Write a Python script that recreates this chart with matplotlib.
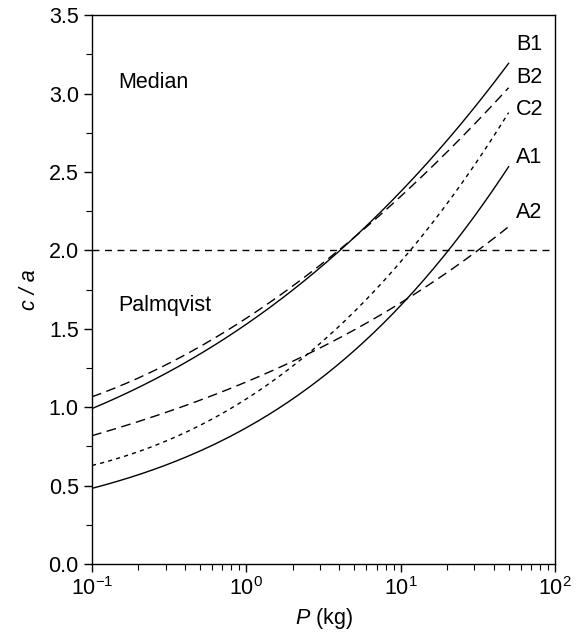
import numpy as np
import matplotlib
matplotlib.use("Agg")
import matplotlib.pyplot as plt
from matplotlib.ticker import FormatStrFormatter, MultipleLocator, LogLocator

plt.rcParams['font.family'] = ['Liberation Sans', 'DejaVu Sans']
plt.rcParams['mathtext.fontset'] = 'custom'
plt.rcParams['mathtext.rm'] = 'Liberation Sans'
plt.rcParams['mathtext.it'] = 'Liberation Sans:italic'

# curves: load P (kg) -> c/a
b1_p = [0.1, 0.24, 0.5, 1.0, 2.0, 4.3, 7.3, 12, 20, 32, 50]
b1_ca = [0.99, 1.17, 1.33, 1.53, 1.76, 2.01, 2.24, 2.46, 2.70, 2.95, 3.19]

b2_p = [0.1, 0.26, 0.5, 1.0, 2.0, 4.3, 8.5, 13.3, 22, 32, 50]
b2_ca = [1.06, 1.25, 1.39, 1.56, 1.78, 2.01, 2.28, 2.46, 2.68, 2.85, 3.02]

c2_p = [0.1, 0.24, 0.5, 1.0, 2.0, 3.5, 6.3, 11.5, 24, 50]
c2_ca = [0.62, 0.76, 0.89, 1.04, 1.26, 1.46, 1.71, 2.00, 2.42, 2.87]

a1_p = [0.1, 0.24, 0.5, 1.0, 2.2, 3.5, 4.7, 6.6, 11.5, 21, 35, 50]
a1_ca = [0.48, 0.60, 0.73, 0.85, 1.07, 1.25, 1.35, 1.47, 1.70, 2.01, 2.32, 2.53]

a2_p = [0.1, 0.24, 0.5, 1.0, 2.0, 3.5, 8.5, 11.5, 20, 36, 50]
a2_ca = [0.81, 0.95, 1.05, 1.15, 1.28, 1.41, 1.64, 1.70, 1.87, 2.02, 2.16]

median_level = 2.0

labels = ['B1', 'B2', 'C2', 'A1', 'A2']
label_y = [3.31, 3.10, 2.90, 2.59, 2.24]

fig = plt.figure(figsize=(5.8, 6.32), dpi=100)
ax = fig.add_axes([0.1586, 0.1076, 0.7984, 0.8684])


def smooth(p, ca, n=300):
    # least-squares cubic through the read points in log10(P), to iron out reading noise
    x = np.log10(p)
    coef = np.polyfit(x, ca, 3)
    xs = np.linspace(x[0], x[-1], n)
    return 10 ** xs, np.polyval(coef, xs)


lw = 1.0
ax.plot(*smooth(b1_p, b1_ca), color='black', lw=lw)
ax.plot(*smooth(b2_p, b2_ca), color='black', lw=lw, dashes=(7, 4))
ax.plot(*smooth(c2_p, c2_ca), color='black', lw=lw, dashes=(3, 3))
ax.plot(*smooth(a1_p, a1_ca), color='black', lw=lw)
ax.plot(*smooth(a2_p, a2_ca), color='black', lw=lw, dashes=(7, 4))
ax.axhline(median_level, color='black', lw=lw, dashes=(5, 4))

fs = 15.5
for lab, y in zip(labels, label_y):
    ax.text(56, y, lab, fontsize=fs, ha='left', va='center')

ax.text(0.148, 3.07, 'Median', fontsize=fs, ha='left', va='center')
ax.text(0.148, 1.65, 'Palmqvist', fontsize=fs, ha='left', va='center')

ax.set_xscale('log')
ax.set_xlim(0.1, 100)
ax.set_ylim(0, 3.5)
ax.yaxis.set_major_locator(MultipleLocator(0.5))
ax.yaxis.set_minor_locator(MultipleLocator(0.25))
ax.yaxis.set_major_formatter(FormatStrFormatter('%.1f'))
ax.xaxis.set_minor_locator(LogLocator(base=10, subs=np.arange(2, 10)))

ax.tick_params(which='major', direction='out', length=6, width=1, labelsize=fs)
ax.tick_params(which='minor', direction='out', length=4, width=0.8)
for s in ax.spines.values():
    s.set_linewidth(1.0)

ax.set_xlabel('$\\it{P}$ (kg)', fontsize=fs, labelpad=4)
ax.set_ylabel('c / a', fontsize=fs, style='italic', labelpad=6)

fig.savefig('out.png', dpi=100)
